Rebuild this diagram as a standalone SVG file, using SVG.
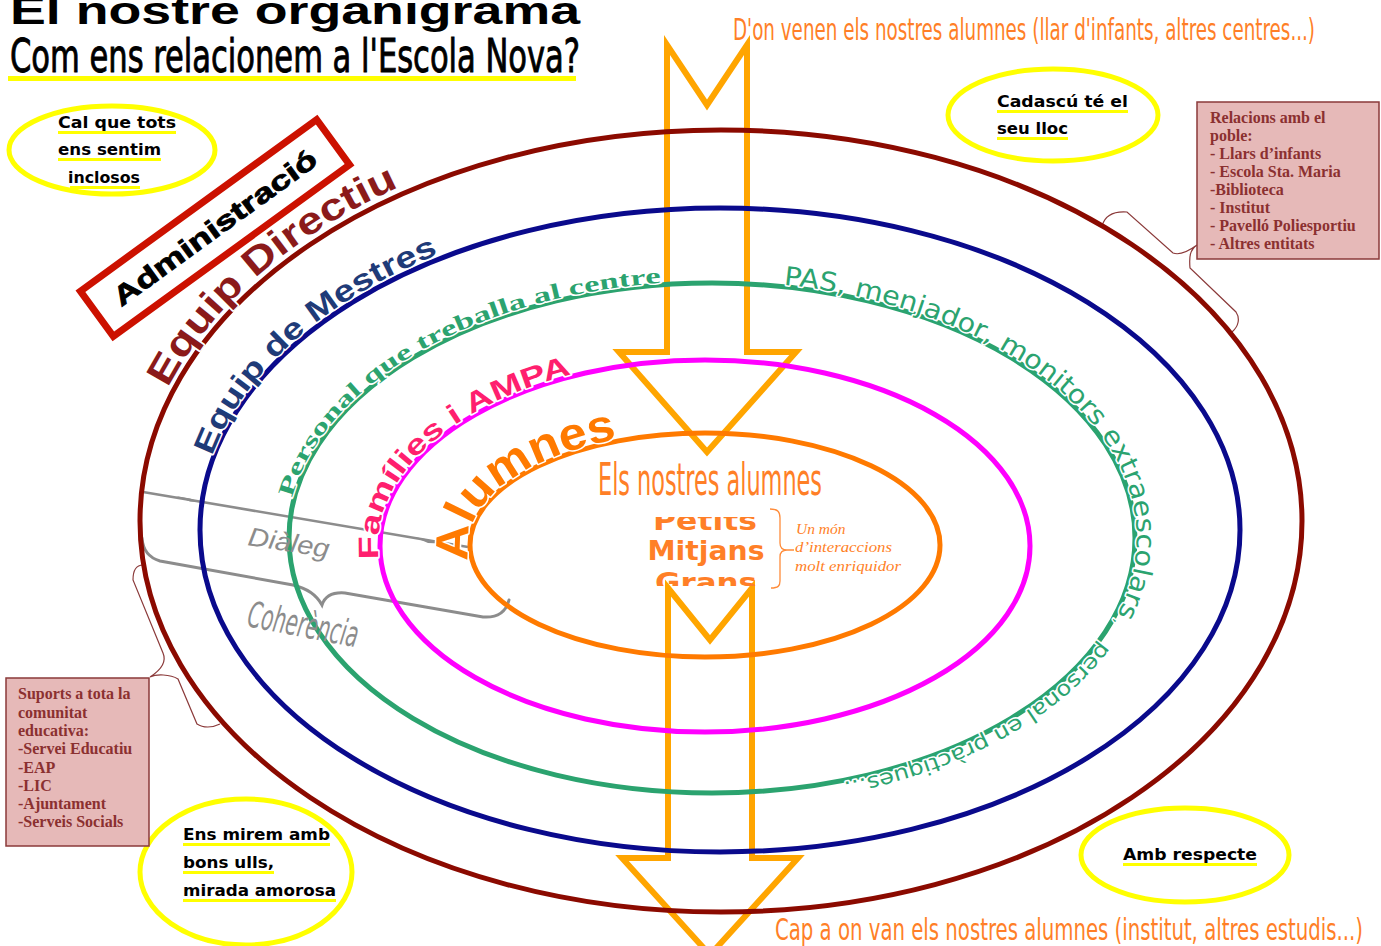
<svg xmlns="http://www.w3.org/2000/svg" width="1381" height="946" viewBox="0 0 1381 946">
<style>
.ring{fill:none;stroke-width:5}
.arrow{fill:none;stroke:#FFA500;stroke-width:6;stroke-linejoin:miter}
.yell{fill:none;stroke:#FFFF00;stroke-width:5}
.yt{font-family:"DejaVu Sans","Liberation Sans",sans-serif;font-weight:bold;font-size:16px;fill:#000}
.ul{fill:#FFFF00}
.box{fill:#E6B9B8;stroke:#8B3A3A;stroke-width:1.5}
.bt{font-family:"Liberation Serif",serif;font-weight:bold;font-size:16px;fill:#8B3030}
.cal{fill:none;stroke:#8B3A3A;stroke-width:1.2}
.ot{font-family:"Liberation Sans Narrow","DejaVu Sans Condensed","Liberation Sans",sans-serif;fill:#FF7F27}
.halo{stroke:#fff;stroke-width:3;paint-order:stroke;stroke-linejoin:round}
.gray{fill:none;stroke:#8C8C8C;stroke-width:3;stroke-linecap:round}
</style>
<defs>
<path id="pDir" d="M168,388 A589,399 0 0 1 401.3,186"/>
<path id="pMes" d="M212,456 A525,327 0 0 1 444,252"/>
<path id="pPer" d="M292.2,497.8 A425,257 0 0 1 667.6,282.4"/>
<path id="pFam" d="M378.8,559.1 A327,188 0 0 1 574.6,373.6"/>
<path id="pAlu" d="M470.3,560.9 A237,114 0 0 1 620.1,438.6"/>
<path id="pPas" d="M778.5,284.2 A425,257 0 0 1 822,786.2"/>
<clipPath id="clipPMG"><rect x="600" y="517" width="200" height="69"/></clipPath>
</defs>
<rect width="1381" height="946" fill="#fff"/>

<g id="title">
<text x="10" y="24" font-family="Liberation Sans,Arial,sans-serif" font-weight="900" font-size="38" textLength="570" lengthAdjust="spacingAndGlyphs">El nostre organigrama</text>
<text x="10" y="72" font-family="Liberation Sans Narrow,DejaVu Sans Condensed,Liberation Sans,sans-serif" font-size="46" stroke="#000" stroke-width="0.9" textLength="570" lengthAdjust="spacingAndGlyphs">Com ens relacionem a l'Escola Nova?</text>
<rect class="ul" x="8" y="76" width="568" height="5"/>
</g>

<g id="connectors">
<polygon class="arrow" points="667,45 707,105 747,45 747,352 796,352 707,452 619,352 667,352"/>
<polygon class="arrow" points="668,588 710,640 752,588 752,858 798,858 710,955 622,858 668,858"/>
<line x1="143" y1="492" x2="468" y2="547" stroke="#8C8C8C" stroke-width="2.5"/>
<polygon points="176,496 190,498.5 200,502 190,501.5" fill="#8C8C8C"/>
<polygon points="414,537 428,539.5 440,543.5 428,543" fill="#8C8C8C"/>
<path class="gray" d="M142,538 C143,552 150,558 160,561 L293,585 C306,588 316,594 322,605 C325,596 332,592 345,593 L483,617 C497,618 506,612 509,600"/>
<path class="cal" d="M1102,226 C1105,215 1113,211 1127,212 L1173,253 C1178,255 1186,253 1197,245 C1190,250 1189,256 1190,268 L1236,312 C1240,318 1239,326 1232,332"/>
<path class="cal" d="M143,565 C137,565 133,570 133,580 L163,653 C166,660 164,668 150,677 C156,674 170,674 178,679 L197,724 C203,728 212,728 220,724"/>
<path d="M770,509 C778,509 780,512 780,518 L780,543 C780,547 782,550 787,550 C782,550 780,553 780,557 L780,581 C780,586 778,588 771,588 M787,550 L794,550" fill="none" stroke="#FF8C3A" stroke-width="1.3"/>
</g>

<g id="rings">
<ellipse class="ring" cx="721" cy="521" rx="581" ry="391" stroke="#8B0A00"/>
<ellipse class="ring" cx="720" cy="530" rx="520" ry="322" stroke="#0A0A8C"/>
<ellipse class="ring" cx="712" cy="538" rx="423" ry="255" stroke="#2BA36F"/>
<ellipse class="ring" cx="705" cy="546" rx="325" ry="186" stroke="#FF00FF"/>
<ellipse class="ring" cx="705" cy="545" rx="235" ry="112" stroke="#FF7A00"/>
</g>

<g id="ring-labels">
<text class="halo" font-family="Liberation Sans,sans-serif" font-weight="bold" font-size="38" fill="#8B1A1A"><textPath href="#pDir" textLength="312" lengthAdjust="spacingAndGlyphs">Equip Directiu</textPath></text>
<text class="halo" font-family="Liberation Sans,sans-serif" font-weight="bold" font-size="30" fill="#1F3B78"><textPath href="#pMes" textLength="312" lengthAdjust="spacingAndGlyphs">Equip de Mestres</textPath></text>
<text class="halo" font-family="Liberation Serif,serif" font-weight="bold" font-size="22" fill="#2BA36F"><textPath href="#pPer" textLength="452" lengthAdjust="spacingAndGlyphs">Personal que treballa al centre</textPath></text>
<text class="halo" font-family="Liberation Sans,sans-serif" font-weight="bold" font-size="28" fill="#FF1F6E"><textPath href="#pFam" textLength="290" lengthAdjust="spacingAndGlyphs">Famílies i AMPA</textPath></text>
<text class="halo" font-family="Liberation Sans,sans-serif" font-weight="bold" font-size="46" fill="#FF7A00"><textPath href="#pAlu" textLength="212" lengthAdjust="spacingAndGlyphs">Alumnes</textPath></text>
<text class="halo" font-family="DejaVu Sans,sans-serif" font-size="26" fill="#2BA36F"><textPath href="#pPas" startOffset="5" textLength="552" lengthAdjust="spacingAndGlyphs">PAS, menjador, monitors extraescolars</textPath></text>
<text class="halo" font-family="DejaVu Sans,sans-serif" font-size="14" fill="#2BA36F"><textPath href="#pPas" startOffset="561">,</textPath></text>
<text class="halo" font-family="DejaVu Sans,sans-serif" font-size="21" fill="#2BA36F"><textPath href="#pPas" startOffset="588" textLength="300" lengthAdjust="spacingAndGlyphs">personal en pràctiques...</textPath></text>
</g>

<g id="administracio">
<rect x="-146" y="-28" width="292" height="56" transform="translate(215,228) rotate(-36)" fill="none" stroke="#CC1100" stroke-width="7"/>
<text x="0" y="9" transform="translate(215,228) rotate(-36)" text-anchor="middle" font-family="Liberation Sans,sans-serif" font-weight="900" font-size="27" stroke="#000" stroke-width="0.8" textLength="245" lengthAdjust="spacingAndGlyphs">Administració</text>
</g>

<g id="flow-in">
<text class="ot" x="733" y="40" font-size="30" textLength="582" lengthAdjust="spacingAndGlyphs">D'on venen els nostres alumnes (llar d'infants, altres centres...)</text>
</g>
<g id="flow-out">
<text class="ot" x="775" y="940" font-size="30" textLength="588" lengthAdjust="spacingAndGlyphs">Cap a on van els nostres alumnes (institut, altres estudis...)</text>
</g>

<g id="center">
<text class="ot" x="598" y="495" font-size="44" textLength="224" lengthAdjust="spacingAndGlyphs">Els nostres alumnes</text>
<g clip-path="url(#clipPMG)" font-family="DejaVu Sans,sans-serif" font-weight="bold" font-size="26" fill="#FF7F27" text-anchor="middle">
<text x="705" y="530" textLength="104" lengthAdjust="spacingAndGlyphs">Petits</text>
<text x="706" y="560" textLength="117" lengthAdjust="spacingAndGlyphs">Mitjans</text>
<text x="706" y="592" textLength="102" lengthAdjust="spacingAndGlyphs">Grans</text>
</g>
<g font-family="Liberation Serif,serif" font-style="italic" font-size="15.5" fill="#FF7F27">
<text x="796" y="534">Un món</text>
<text x="795" y="552" textLength="97" lengthAdjust="spacingAndGlyphs">d’interaccions</text>
<text x="795" y="571" textLength="106" lengthAdjust="spacingAndGlyphs">molt enriquidor</text>
</g>
</g>

<g id="dialeg">
<text x="0" y="0" transform="translate(247,545) rotate(9)" font-family="Liberation Sans,sans-serif" font-style="italic" font-size="26" fill="#8C8C8C" textLength="82" lengthAdjust="spacingAndGlyphs">Diàleg</text>
</g>
<g id="coherencia">
<text x="0" y="0" transform="translate(246,626) rotate(11)" font-family="Liberation Sans Narrow,DejaVu Sans Condensed,Liberation Sans,sans-serif" font-style="italic" font-size="36" fill="#8C8C8C" textLength="112" lengthAdjust="spacingAndGlyphs">Coherència</text>
</g>

<g id="note-inclosos">
<ellipse class="yell" cx="112" cy="150" rx="103" ry="44"/>
<rect class="ul" x="58" y="131" width="118" height="3"/>
<rect class="ul" x="58" y="158" width="103" height="3"/>
<rect class="ul" x="70" y="186" width="70" height="3"/>
<text class="yt" x="58" y="128" textLength="118" lengthAdjust="spacingAndGlyphs">Cal que tots</text>
<text class="yt" x="58" y="155" textLength="103" lengthAdjust="spacingAndGlyphs">ens sentim</text>
<text class="yt" x="68" y="183" textLength="72" lengthAdjust="spacingAndGlyphs">inclosos</text>
</g>

<g id="note-lloc">
<ellipse class="yell" cx="1053" cy="115" rx="105" ry="46"/>
<rect class="ul" x="997" y="110" width="131" height="3"/>
<rect class="ul" x="997" y="137" width="71" height="3"/>
<text class="yt" x="997" y="107" textLength="131" lengthAdjust="spacingAndGlyphs">Cadascú té el</text>
<text class="yt" x="997" y="134" textLength="71" lengthAdjust="spacingAndGlyphs">seu lloc</text>
</g>

<g id="note-ulls">
<ellipse class="yell" cx="246" cy="872" rx="106" ry="73"/>
<rect class="ul" x="183" y="843" width="147" height="3"/>
<rect class="ul" x="183" y="871" width="91" height="3"/>
<rect class="ul" x="183" y="899" width="153" height="3"/>
<text class="yt" x="183" y="840" textLength="147" lengthAdjust="spacingAndGlyphs">Ens mirem amb</text>
<text class="yt" x="183" y="868" textLength="91" lengthAdjust="spacingAndGlyphs">bons ulls,</text>
<text class="yt" x="183" y="896" textLength="153" lengthAdjust="spacingAndGlyphs">mirada amorosa</text>
</g>

<g id="note-respecte">
<ellipse class="yell" cx="1185" cy="855" rx="104" ry="47"/>
<rect class="ul" x="1123" y="863" width="134" height="3"/>
<text class="yt" x="1123" y="860" textLength="134" lengthAdjust="spacingAndGlyphs">Amb respecte</text>
</g>

<g id="box-poble">
<rect class="box" x="1197" y="102" width="182" height="157"/>
<text class="bt" x="1210" y="123">Relacions amb el</text>
<text class="bt" x="1210" y="141">poble:</text>
<text class="bt" x="1210" y="159">- Llars d’infants</text>
<text class="bt" x="1210" y="177">- Escola Sta. Maria</text>
<text class="bt" x="1210" y="195">-Biblioteca</text>
<text class="bt" x="1210" y="213">- Institut</text>
<text class="bt" x="1210" y="231">- Pavelló Poliesportiu</text>
<text class="bt" x="1210" y="249">- Altres entitats</text>
</g>

<g id="box-suports">
<rect class="box" x="6" y="678" width="143" height="168"/>
<text class="bt" x="18" y="699">Suports a tota la</text>
<text class="bt" x="18" y="718">comunitat</text>
<text class="bt" x="18" y="736">educativa:</text>
<text class="bt" x="18" y="754">-Servei Educatiu</text>
<text class="bt" x="18" y="773">-EAP</text>
<text class="bt" x="18" y="791">-LIC</text>
<text class="bt" x="18" y="809">-Ajuntament</text>
<text class="bt" x="18" y="827">-Serveis Socials</text>
</g>
</svg>
